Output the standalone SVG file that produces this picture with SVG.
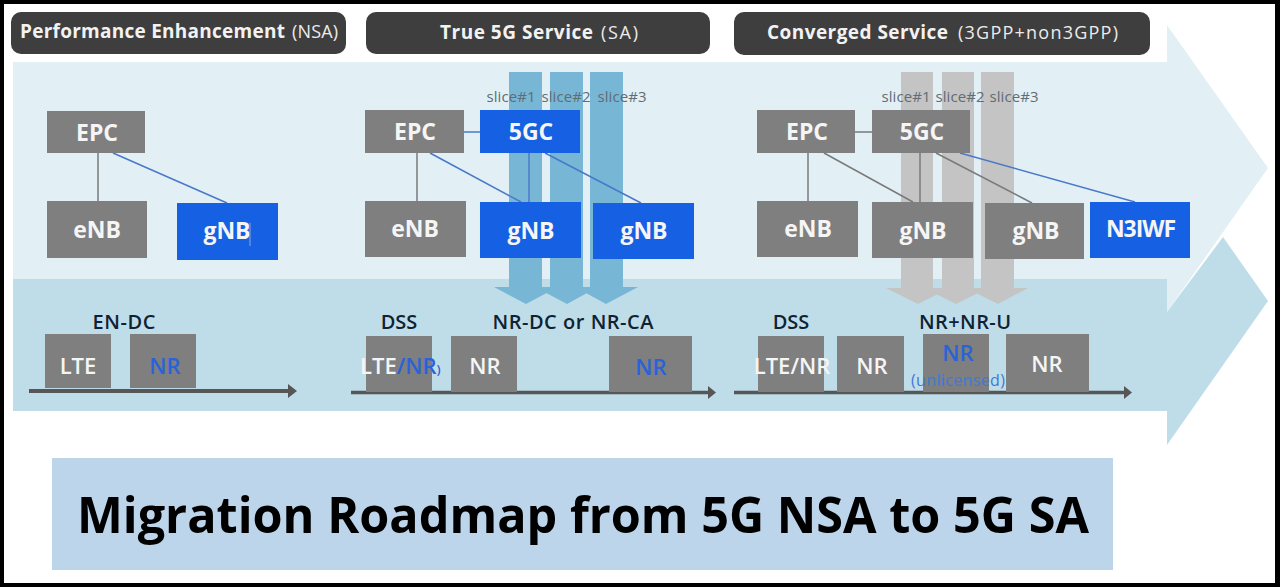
<svg xmlns="http://www.w3.org/2000/svg" width="1280" height="587" viewBox="0 0 1280 587">
<style>
text{font-family:"Open Sans","Noto Sans","Liberation Sans",sans-serif;text-anchor:middle}
.hd{fill:#3f3e3e}
.ht{fill:#f2f2f2;font-size:19px;font-weight:700;text-anchor:start}
.hs{fill:#ececec;font-size:18px;font-weight:400;text-anchor:start}
.g{fill:#7f7f7f}
.b{fill:#1660e4}
.nt{fill:#f5f5f5;font-size:23px;font-weight:700}
.sl{fill:#5f6d75;font-size:15px}
.cap{fill:#0f2233;font-size:20px;font-weight:600}
.bt{fill:#f5f5f5;font-size:22px;font-weight:600}
.bl{fill:#2a62d8;font-size:22px;font-weight:600}
.cg{stroke:#7a7a7a;stroke-width:1.5;fill:none}
.cb{stroke:#4a78c8;stroke-width:1.5;fill:none}
.ax{stroke:#565656;fill:none}
</style>
<rect width="1280" height="587" fill="#000"/>
<rect x="4" y="4" width="1271" height="579" fill="#fff"/>
<g id="flow-arrows">
<polygon points="13,62 1167,62 1167,25 1268,168 1167,312 1167,411 13,411" fill="#e2f0f6"/>
<polygon points="13,279 1167,279 1167,312 1223,237 1268,301 1167,445 1167,411 13,411" fill="#bfdde9"/>
</g>
<g id="slices-blue" fill="#78b6d6">
<polygon points="509,72 542,72 542,287 558,287 526,304 494,287 509,287"/>
<polygon points="550,72 583,72 583,287 598,287 567,304 535,287 550,287"/>
<polygon points="590,72 623,72 623,287 638,287 606,304 575,287 590,287"/>
</g>
<g id="slices-gray" fill="#c4c4c4">
<polygon points="901,72 933,72 933,288 950,288 918,304 886,288 901,288"/>
<polygon points="942,72 974,72 974,288 988,288 956,304 924,288 942,288"/>
<polygon points="981,72 1014,72 1014,288 1028,288 998,304 966,288 981,288"/>
</g>
<g id="header-nsa"><rect class="hd" x="11" y="12" width="335" height="42" rx="10"/><text class="ht" x="20" y="38" textLength="265">Performance Enhancement</text><text class="hs" x="292" y="38" textLength="46">(NSA)</text></g>
<g id="header-sa"><rect class="hd" x="366" y="12" width="344" height="42" rx="10"/><text class="ht" x="440" y="39" textLength="153">True 5G Service</text><text class="hs" x="601" y="39" textLength="37">(SA)</text></g>
<g id="header-conv"><rect class="hd" x="734" y="12" width="416" height="43" rx="10"/><text class="ht" x="767" y="39" textLength="181">Converged Service</text><text class="hs" x="958" y="39" textLength="160">(3GPP+non3GPP)</text></g>
<g id="connectors">
<line class="cg" x1="98" y1="153" x2="98" y2="201"/>
<line class="cb" x1="113" y1="153" x2="227" y2="203"/>
<line class="cg" x1="417" y1="153" x2="417" y2="201"/>
<line class="cb" x1="464" y1="132" x2="480" y2="132"/>
<line class="cb" x1="430" y1="153" x2="521" y2="202"/>
<line class="cb" x1="529" y1="153" x2="529" y2="202"/>
<line class="cb" x1="545" y1="153" x2="641" y2="203"/>
<line class="cg" x1="808" y1="153" x2="808" y2="201"/>
<line class="cg" x1="855" y1="132" x2="872" y2="132"/>
<line class="cg" x1="824" y1="153" x2="913" y2="202"/>
<line class="cg" x1="920" y1="153" x2="920" y2="202"/>
<line class="cg" x1="936" y1="153" x2="1032" y2="203"/>
<line class="cb" x1="960" y1="153" x2="1135" y2="202"/>
<g id="axes">
<path class="ax" stroke-width="4" d="M29,391H293"/><polygon fill="#565656" points="288,384 297,391 288,398"/>
<path class="ax" stroke-width="3.5" d="M351,392.500H712"/><polygon fill="#565656" points="708,386 716,392.500 708,399"/>
<path class="ax" stroke-width="3.500" d="M734,392.500H1128"/><polygon fill="#565656" points="1124,386 1132,392.500 1124,399"/>
</g>
</g>
<g id="epc-1"><rect class="g" x="47" y="111" width="98" height="42"/><text class="nt" x="97" y="141">EPC</text></g>
<g id="enb-1"><rect class="g" x="47" y="201" width="100" height="57"/><text class="nt" x="97" y="238">eNB</text></g>
<g id="gnb-1"><rect class="b" x="177" y="203" width="101" height="57"/><text class="nt" x="227" y="239">gNB</text><line x1="250" y1="223" x2="250" y2="246" stroke="#8fa6c8" stroke-width="1"/></g>
<g id="epc-2"><rect class="g" x="365" y="110" width="99" height="43"/><text class="nt" x="415" y="140">EPC</text></g>
<g id="enb-2"><rect class="g" x="365" y="201" width="101" height="56"/><text class="nt" x="415" y="237">eNB</text></g>
<g id="fivegc-2"><rect class="b" x="480" y="110" width="100" height="43"/><text class="nt" x="531" y="140">5GC</text></g>
<g id="gnb-2a"><rect class="b" x="480" y="202" width="101" height="56"/><text class="nt" x="531" y="239">gNB</text></g>
<g id="gnb-2b"><rect class="b" x="593" y="203" width="101" height="56"/><text class="nt" x="644" y="239">gNB</text></g>
<g id="epc-3"><rect class="g" x="757" y="110" width="98" height="43"/><text class="nt" x="807" y="140">EPC</text></g>
<g id="enb-3"><rect class="g" x="757" y="201" width="101" height="56"/><text class="nt" x="808" y="237">eNB</text></g>
<g id="fivegc-3"><rect class="g" x="872" y="110" width="98" height="43"/><text class="nt" x="922" y="140">5GC</text></g>
<g id="gnb-3a"><rect class="g" x="872" y="202" width="101" height="56"/><text class="nt" x="923" y="239">gNB</text></g>
<g id="gnb-3b"><rect class="g" x="985" y="203" width="99" height="56"/><text class="nt" x="1036" y="239">gNB</text></g>
<g id="n3iwf"><rect class="b" x="1090" y="202" width="100" height="56"/><text class="nt" x="1141" y="237" textLength="70">N3IWF</text></g>
<g id="slice-labels">
<text class="sl" x="511" y="102" textLength="49">slice#1</text><text class="sl" x="566" y="102" textLength="49">slice#2</text><text class="sl" x="622" y="102" textLength="49">slice#3</text>
<text class="sl" x="906" y="102" textLength="49">slice#1</text><text class="sl" x="960" y="102" textLength="49">slice#2</text><text class="sl" x="1014" y="102" textLength="49">slice#3</text>
</g>
<g id="band-nsa">
<text class="cap" x="124" y="329" textLength="63">EN-DC</text>
<rect class="g" x="45" y="334" width="66" height="54"/><text class="bt" x="78" y="374">LTE</text>
<rect class="g" x="130" y="334" width="66" height="54"/><text class="bl" x="165" y="374">NR</text>
</g>
<g id="band-sa">
<text class="cap" x="399" y="329">DSS</text><text class="cap" x="573" y="329" textLength="161">NR-DC or NR-CA</text>
<rect class="g" x="366" y="336" width="66" height="56"/>
<text class="bt" x="360" y="374" style="text-anchor:start">LTE<tspan fill="#2a62d8">/NR</tspan><tspan fill="#2a62d8" font-size="13">)</tspan></text>
<rect class="g" x="451" y="336" width="66" height="56"/><text class="bt" x="485" y="374">NR</text>
<rect class="g" x="609" y="336" width="83" height="56"/><text class="bl" x="651" y="375">NR</text>
</g>
<g id="band-conv">
<text class="cap" x="791" y="329">DSS</text><text class="cap" x="965" y="329" textLength="92">NR+NR-U</text>
<rect class="g" x="758" y="336" width="66" height="56"/><text class="bt" x="792" y="374">LTE/NR</text>
<rect class="g" x="837" y="336" width="67" height="56"/><text class="bt" x="872" y="374">NR</text>
<rect class="g" x="923" y="334" width="66" height="58"/><text class="bl" x="958" y="361">NR</text><text x="958" y="386" fill="#3f78d8" font-size="16" textLength="94">(unlicensed)</text>
<rect class="g" x="1006" y="334" width="83" height="58"/><text class="bt" x="1047" y="372">NR</text>
</g>
<g id="title"><rect x="52" y="458" width="1061" height="112" fill="#bdd5ea"/><text x="583" y="533" font-size="50" font-weight="700" fill="#000" textLength="1012" lengthAdjust="spacingAndGlyphs">Migration Roadmap from 5G NSA to 5G SA</text></g>
</svg>
